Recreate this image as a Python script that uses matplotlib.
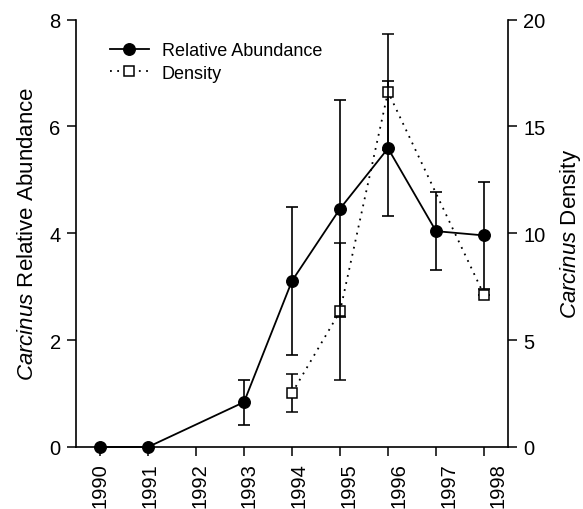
import matplotlib
matplotlib.use("Agg")
import matplotlib.pyplot as plt
from matplotlib.lines import Line2D
from matplotlib.transforms import ScaledTranslation

plt.rcParams['font.family'] = ['Liberation Sans', 'DejaVu Sans']
plt.rcParams['mathtext.fontset'] = 'custom'
plt.rcParams['mathtext.rm'] = 'Liberation Sans'
plt.rcParams['mathtext.it'] = 'Liberation Sans:italic'

years_tick = [1990, 1991, 1992, 1993, 1994, 1995, 1996, 1997, 1998]

abund_years = [1990, 1991, 1993, 1994, 1995, 1996, 1997, 1998]
abund_vals = [0.0, 0.0, 0.84, 3.11, 4.46, 5.59, 4.04, 3.96]
abund_err = [0.0, 0.0, 0.42, 1.38, 2.03, 1.27, 0.73, 1.00]

dens_years = [1994, 1995, 1996, 1998]
dens_vals = [2.53, 6.35, 16.62, 7.12]
dens_err = [0.90, 3.20, 2.70, 0.0]

fig = plt.figure(figsize=(5.83, 5.10), dpi=100)
ax = fig.add_axes([0.1304, 0.1216, 0.741, 0.838])
ax2 = ax.twinx()

# density (right axis)
ax2.errorbar(dens_years, dens_vals, yerr=dens_err, color='black', ecolor='black',
             elinewidth=1.2, capsize=4.2, capthick=1.2, linestyle=(0, (1, 3)), linewidth=1.3,
             marker='s', markersize=7, markerfacecolor='white', markeredgecolor='black',
             markeredgewidth=1.1, clip_on=False, zorder=3)
# relative abundance (left axis)
ax.errorbar(abund_years, abund_vals, yerr=abund_err, color='black', ecolor='black',
            elinewidth=1.2, capsize=4.2, capthick=1.2, linestyle='-', linewidth=1.3,
            marker='o', markersize=8.3, markerfacecolor='black', markeredgecolor='black',
            clip_on=False, zorder=3)

ax.set_zorder(ax2.get_zorder() + 1)
ax.patch.set_visible(False)

ax.set_xlim(1989.5, 1998.5)
ax.set_ylim(0, 8)
ax2.set_ylim(0, 20)
ax.set_xticks(years_tick)
ax.set_xticklabels([str(y) for y in years_tick], rotation=90)
ax.set_yticks([0, 2, 4, 6, 8])
ax2.set_yticks([0, 5, 10, 15, 20])

for a in (ax, ax2):
    a.spines['top'].set_visible(False)
    for s in a.spines.values():
        s.set_linewidth(1.2)
ax.spines['right'].set_visible(False)
ax2.spines['left'].set_visible(False)
ax2.spines['bottom'].set_visible(False)

ax.tick_params(axis='both', direction='out', length=6.5, width=1.1, labelsize=14.5, pad=4.5)
ax2.tick_params(axis='y', direction='out', length=6.5, width=1.1, labelsize=14.5, pad=4.5)

# slight rightward drift of the year labels as in the scanned original
for i, lbl in enumerate(ax.get_xticklabels()):
    lbl.set_transform(lbl.get_transform() +
                      ScaledTranslation(i * 1.3 / 72, 0, fig.dpi_scale_trans))

ax.set_ylabel(r'$\it{Carcinus}$ Relative Abundance', fontsize=16, labelpad=8)
ax2.set_ylabel(r'$\it{Carcinus}$ Density', fontsize=16, labelpad=9)

handles = [
    Line2D([], [], color='black', linewidth=1.3, marker='o', markersize=8.3,
           markerfacecolor='black'),
    Line2D([], [], color='black', linewidth=1.3, linestyle=(0, (1, 3)), marker='s',
           markersize=7, markerfacecolor='white', markeredgewidth=1.1),
]
ax.legend(handles, ['Relative Abundance', 'Density'], loc='upper left',
          bbox_to_anchor=(0.04, 0.985), frameon=False, fontsize=13,
          handlelength=2.2, handletextpad=0.7, labelspacing=0.3)

fig.savefig('out.png', dpi=100)
